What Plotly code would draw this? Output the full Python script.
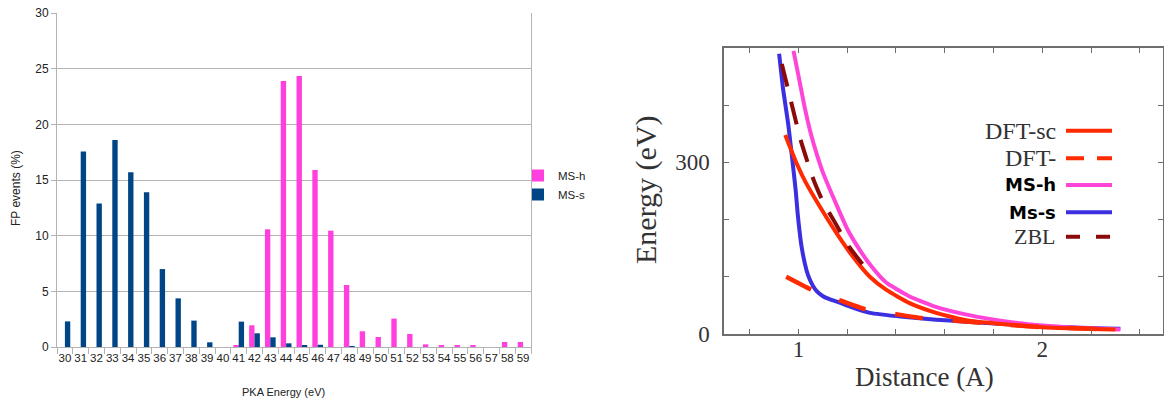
import plotly.graph_objects as go

W, H = 1164, 398

# ---------------- Left chart data ----------------
energies = ["30", "31", "32", "33", "34", "35", "36", "37", "38", "39",
            "40", "41", "42", "43", "44", "45", "46", "47", "48", "49",
            "50", "51", "52", "53", "54", "55", "56", "57", "58", "59"]
ms_h = [0, 0, 0, 0, 0, 0, 0, 0, 0, 0,
        0, 0.15, 1.95, 10.57, 23.9, 24.35, 15.9, 10.45, 5.57, 1.41,
        0.9, 2.55, 1.17, 0.24, 0.1, 0.1, 0.1, 0, 0.45, 0.45]
ms_s = [2.3, 17.55, 12.9, 18.6, 15.7, 13.9, 7.0, 4.37, 2.37, 0.42,
        0, 2.28, 1.23, 0.87, 0.33, 0.12, 0.2, 0, 0.05, 0,
        0, 0, 0, 0, 0, 0, 0, 0, 0, 0]

# ---------------- Right chart data ----------------
mss_x = [0.921, 0.938, 0.958, 0.974, 0.989, 0.997, 1.013, 1.033, 1.045, 1.060,
         1.075, 1.101, 1.13, 1.158, 1.223, 1.293, 1.429, 1.565, 1.672, 2.0, 2.32]
mss_e = [490, 426, 368, 309, 251, 211, 153, 112, 97, 84,
         75, 66, 60.5, 56.5, 46, 37, 30, 25, 22, 13, 9]

msh_x = [0.98, 1.0, 1.025, 1.05, 1.075, 1.1, 1.15, 1.2, 1.25, 1.3, 1.36, 1.45,
         1.56, 1.7, 1.85, 2.0, 2.15, 2.32]
msh_e = [495, 452, 398, 352, 315, 283, 232, 184, 148, 118, 90, 67,
         48, 33, 22, 15, 11, 8]

dftsc_x = [0.946, 0.993, 1.03, 1.089, 1.157, 1.224, 1.293, 1.361, 1.456, 1.565,
           1.70, 2.0, 2.3]
dftsc_e = [348, 298, 265, 222, 176, 135, 100, 77, 54, 37,
           23, 12, 8]

dft_x = [0.95, 1.051, 1.163, 1.272, 1.395, 1.504, 1.626, 1.8, 2.0, 2.3]
dft_e = [100, 78, 60, 43.5, 35, 28, 24, 18, 12, 8]

zbl_x = [0.932, 0.969, 1.01, 1.061, 1.10, 1.15, 1.207, 1.265]
zbl_e = [472, 408, 338, 271, 232, 195, 153, 121]

legend_labels = ["DFT-sc", "DFT-", "MS-h", "Ms-s", "ZBL"]

PINK = "#ff40df"
NAVY = "#004586"
RED = "#ff2a00"
MAG = "#ff45d8"
BLUE = "#3b2fe0"
DRED = "#8b0a0a"

fig = go.Figure()

fig.add_trace(go.Bar(x=energies, y=ms_h, name="MS-h", marker_color=PINK,
                     marker_line_width=0, xaxis="x", yaxis="y"))
fig.add_trace(go.Bar(x=energies, y=ms_s, name="MS-s", marker_color=NAVY,
                     marker_line_width=0, xaxis="x", yaxis="y"))

line_kw = dict(xaxis="x2", yaxis="y2", mode="lines", showlegend=False, hoverinfo="skip")
fig.add_trace(go.Scatter(x=mss_x, y=mss_e, line=dict(color=BLUE, width=4, shape="spline", smoothing=0.5), **line_kw))
fig.add_trace(go.Scatter(x=msh_x, y=msh_e, line=dict(color=MAG, width=4, shape="spline", smoothing=0.5), **line_kw))
fig.add_trace(go.Scatter(x=dftsc_x, y=dftsc_e, line=dict(color=RED, width=4, shape="spline", smoothing=0.5), **line_kw))
fig.add_trace(go.Scatter(x=dft_x, y=dft_e, line=dict(color=RED, width=4.5, dash="28px,30px", shape="spline", smoothing=0.5), **line_kw))
fig.add_trace(go.Scatter(x=zbl_x, y=zbl_e, line=dict(color=DRED, width=4, dash="23px,16px", shape="spline", smoothing=0.5), **line_kw))

GRID = "#b3b3b3"
AX2 = "#6e6e6e"
TXT = "#333333"
serif = "Liberation Serif"


def px_x(p):
    return p / W


def px_y(p):
    return 1 - p / H


annotations = [
    dict(text="FP events (%)", x=px_x(16), y=px_y(188), textangle=-90,
         font=dict(size=12, color="#222", family="Liberation Sans")),
    dict(text="PKA Energy (eV)", x=px_x(283), y=px_y(392),
         font=dict(size=11, color="#222", family="Liberation Sans")),
    dict(text="Energy (eV)", x=px_x(646), y=px_y(190), textangle=-90,
         font=dict(size=30, color=TXT, family=serif)),
    dict(text="Distance (A)", x=px_x(924), y=px_y(377),
         font=dict(size=27, color=TXT, family=serif)),
]
for a in annotations:
    a.update(xref="paper", yref="paper", xanchor="center", yanchor="middle", showarrow=False)

rows_y = [130.7, 158.3, 185, 212.3, 236.7]
leg_styles = [
    dict(color=RED, dash="solid", font=dict(size=24, color=TXT, family=serif)),
    dict(color=RED, dash="18px,13px", font=dict(size=24, color=TXT, family=serif)),
    dict(color=MAG, dash="solid", font=dict(size=18, color="#000", family="DejaVu Sans", weight="bold")),
    dict(color=BLUE, dash="solid", font=dict(size=18, color="#000", family="DejaVu Sans", weight="bold")),
    dict(color=DRED, dash="14px,16px", font=dict(size=22, color=TXT, family=serif)),
]
shapes = []
for lab, yy, st in zip(legend_labels, rows_y, leg_styles):
    annotations.append(dict(text=lab, x=px_x(1058), y=px_y(yy), xref="paper", yref="paper",
                            xanchor="right", yanchor="middle", showarrow=False, font=st["font"]))
    shapes.append(dict(type="line", xref="paper", yref="paper",
                       x0=px_x(1066), x1=px_x(1112), y0=px_y(yy), y1=px_y(yy),
                       line=dict(color=st["color"], width=4, dash=st["dash"])))

fig.update_layout(
    width=W, height=H,
    margin=dict(l=0, r=0, t=0, b=0, autoexpand=False),
    paper_bgcolor="white", plot_bgcolor="white",
    font=dict(family="Liberation Sans", color="#222"),
    barmode="group", bargap=0.32, bargroupgap=0,
    showlegend=True,
    legend=dict(x=px_x(518), y=px_y(185), xanchor="left", yanchor="middle",
                font=dict(size=11.5, family="Liberation Sans", color="#222"),
                bgcolor="rgba(0,0,0,0)", itemwidth=30, tracegroupgap=2),
    xaxis=dict(domain=[px_x(57), px_x(531)], anchor="y", type="category", automargin=False,
               tickson="boundaries", ticks="outside", ticklen=6, tickcolor=GRID,
               showline=True, linecolor=GRID, linewidth=1, showgrid=False,
               tickfont=dict(size=11.5, color="#222"), tickangle=0),
    yaxis=dict(domain=[px_y(347), px_y(13)], anchor="x", range=[0, 30], dtick=5, automargin=False,
               showgrid=True, gridcolor=GRID, gridwidth=1, zeroline=False,
               showline=True, mirror=True, linecolor=GRID, linewidth=1,
               ticks="outside", ticklen=5, tickcolor=GRID,
               tickfont=dict(size=12, color="#222")),
    xaxis2=dict(domain=[px_x(724), px_x(1163)], anchor="y2", range=[0.695, 2.495], automargin=False,
                tickvals=[0.8, 1.0, 1.2, 1.4, 1.6, 1.8, 2.0, 2.2, 2.4],
                ticktext=["", "1", "", "", "", "", "2", "", ""],
                ticks="inside", ticklen=5, tickcolor=AX2, tickwidth=1,
                showline=True, mirror="ticks", linecolor=AX2, linewidth=1.5,
                showgrid=False, zeroline=False, ticklabelstandoff=-6,
                tickfont=dict(size=23, color=TXT, family=serif)),
    yaxis2=dict(domain=[px_y(334), px_y(48)], anchor="x2", range=[0, 500], automargin=False,
                tickvals=[0, 100, 200, 300, 400, 500],
                ticktext=["0", "", "", "300", "", ""],
                ticks="inside", ticklen=5, tickcolor=AX2, tickwidth=1,
                showline=True, mirror="ticks", linecolor=AX2, linewidth=1.5,
                showgrid=False, zeroline=False, ticklabelstandoff=8,
                tickfont=dict(size=23, color=TXT, family=serif)),
    annotations=annotations,
    shapes=shapes,
)

fig.write_html("out.html")
